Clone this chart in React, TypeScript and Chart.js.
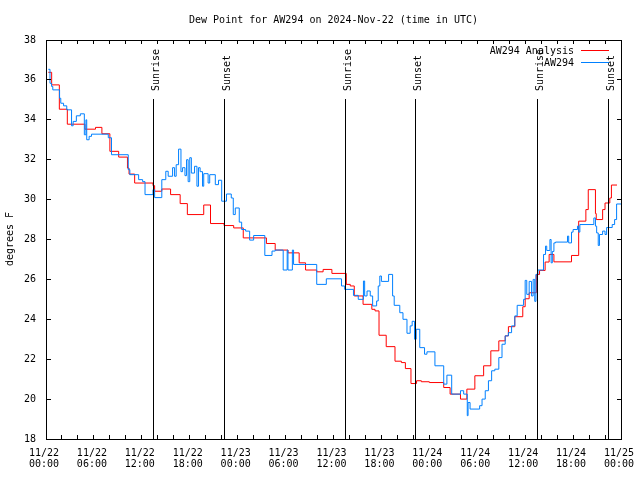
import React, { useEffect, useRef } from "react";
import { Chart, registerables } from "chart.js";

Chart.register(...registerables);

// ---------- text ----------
const TITLE = "Dew Point for AW294 on 2024-Nov-22 (time in UTC)";
const Y_TITLE = "degrees F";
const ANALYSIS_LABEL = "AW294 Analysis";
const OBS_LABEL = "AW294";

// ---------- axes ----------
const X_MIN = 0; // hours since 11/22 00:00 UTC
const X_MAX = 72;
const Y_MIN = 18;
const Y_MAX = 38;
const xTickHours = [0, 6, 12, 18, 24, 30, 36, 42, 48, 54, 60, 66, 72];
const xTickDates = ["11/22", "11/22", "11/22", "11/22", "11/23", "11/23", "11/23", "11/23", "11/24", "11/24", "11/24", "11/24", "11/25"];
const xTickTimes = ["00:00", "06:00", "12:00", "18:00", "00:00", "06:00", "12:00", "18:00", "00:00", "06:00", "12:00", "18:00", "00:00"];
const yTickValues = [18, 20, 22, 24, 26, 28, 30, 32, 34, 36, 38];

// ---------- sunrise / sunset markers ----------
const sunEventHours = [13.44, 22.33, 37.48, 46.33, 61.52, 70.41];
const sunEventLabels = ["Sunrise", "Sunset", "Sunrise", "Sunset", "Sunrise", "Sunset"];
const SUN_LINE_TOP = 35; // degrees F, where the marker lines start

// ---------- series: AW294 Analysis (red) ----------
const analysisHours = [
  0.29, 0.71, 1.67, 2.67, 4.88, 6.2, 7.0, 8.0, 9.1, 10.2, 10.4, 11.1, 13.4, 13.6, 14.5, 15.6, 16.8, 17.7, 19.75, 20.6,
  22.3, 23.5, 24.7, 27.6, 28.7, 30.3, 31.7, 32.5, 33.9, 34.7, 35.8, 37.6, 38.1, 38.6, 39.7, 40.8, 41.2, 41.7, 42.6, 43.7,
  44.5, 45.0, 45.7, 46.4, 47.0, 48.0, 49.8, 50.6, 51.9, 52.7, 53.7, 54.8, 55.7, 56.7, 57.5, 57.9, 58.7, 59.7, 60.0, 60.5,
  61.4, 61.8, 62.5, 63.0, 63.6, 65.8, 66.7, 67.6, 67.9, 68.8, 68.9, 69.7, 70.0, 70.6, 70.8, 71.5,
];
const analysisValues = [
  36.38, 35.75, 34.53, 33.78, 33.53, 33.62, 33.3, 32.42, 32.13, 31.58, 31.28, 30.83, 30.7, 30.42, 30.53, 30.25, 29.8, 29.25, 29.73, 28.8,
  28.7, 28.58, 28.08, 27.8, 27.47, 27.33, 26.83, 26.47, 26.38, 26.5, 26.3, 25.75, 25.67, 25.17, 24.75, 24.5, 24.42, 23.2, 22.63, 21.9,
  21.83, 21.53, 20.78, 20.92, 20.87, 20.83, 20.58, 20.25, 20.0, 20.5, 21.17, 21.67, 22.42, 22.92, 23.17, 23.63, 24.13, 24.63, 25.03, 25.33,
  26.25, 26.45, 26.87, 27.25, 26.88, 27.2, 28.92, 29.5, 30.5, 29.3, 29.0, 29.5, 29.83, 30.08, 30.73, 30.73,
];

// ---------- series: AW294 observations (blue) ----------
const obsHours = [
  0.29, 0.5, 0.7, 0.85, 1.7, 1.85, 2.2, 2.6, 3.2, 3.4, 3.8, 4.3, 4.8, 5.0, 5.1, 5.4, 5.7, 7.8, 8.2, 10.3,
  10.5, 11.6, 12.1, 12.4, 13.4, 13.6, 14.5, 15.0, 15.3, 15.85, 16.1, 16.3, 16.6, 16.9, 17.1, 17.4, 17.6, 17.8, 18.0, 18.2,
  18.6, 18.9, 19.1, 19.3, 19.6, 19.75, 20.3, 20.5, 21.2, 21.6, 22.0, 22.6, 23.2, 23.45, 23.7, 24.2, 24.5, 25.0, 25.5, 26.0,
  27.4, 28.3, 28.7, 29.7, 30.2, 30.3, 30.85, 31.0, 33.9, 35.1, 37.0, 37.4, 38.5, 39.1, 39.75, 39.9, 40.2, 40.6, 40.9, 41.4,
  41.6, 41.8, 42.0, 42.9, 43.4, 43.6, 44.3, 44.7, 45.2, 45.6, 45.85, 46.15, 46.35, 46.8, 47.4, 47.7, 48.7, 49.8, 50.2, 50.8,
  51.9, 52.3, 52.75, 52.85, 53.1, 54.3, 54.6, 55.0, 55.4, 55.8, 56.2, 56.7, 57.1, 57.5, 57.9, 58.3, 58.7, 59.0, 59.8, 60.0,
  60.2, 60.5, 60.8, 61.0, 61.2, 61.35, 61.6, 62.3, 62.55, 62.7, 63.1, 63.25, 63.4, 63.6, 63.8, 65.3, 65.45, 65.8, 66.0, 66.55,
  66.7, 66.85, 68.6, 68.8, 68.95, 69.15, 69.3, 69.7, 70.0, 70.2, 70.9, 71.2, 71.45, 72.0,
];
const obsValues = [
  36.53, 35.83, 35.67, 35.5, 35.08, 34.83, 34.7, 34.5, 33.7, 33.92, 34.2, 34.3, 33.25, 34.0, 33.0, 33.17, 33.28, 33.1, 32.25, 31.5,
  31.25, 31.0, 30.9, 30.25, 30.5, 30.1, 31.0, 31.42, 31.17, 31.6, 31.17, 31.75, 32.53, 31.4, 31.6, 31.2, 32.0, 30.9, 32.1, 31.33,
  31.67, 30.67, 31.6, 31.4, 30.67, 31.3, 30.83, 31.25, 30.75, 30.97, 29.92, 30.28, 30.08, 29.25, 29.58, 28.87, 28.5, 28.42, 27.97, 28.2,
  27.2, 27.42, 27.47, 26.47, 27.47, 26.47, 27.47, 26.75, 25.75, 26.03, 25.67, 25.5, 25.2, 25.0, 25.92, 25.17, 25.42, 25.17, 24.67, 24.92,
  25.67, 26.17, 25.9, 26.25, 25.17, 24.7, 24.33, 24.0, 23.3, 23.67, 23.9, 23.0, 23.5, 22.58, 22.25, 22.37, 21.67, 20.75, 21.2, 20.25,
  20.42, 20.25, 19.17, 19.83, 19.5, 19.67, 20.0, 20.42, 20.92, 21.42, 21.5, 22.08, 22.75, 23.17, 23.33, 23.67, 24.17, 24.7, 25.0, 25.95,
  25.25, 25.9, 25.17, 26.0, 24.9, 26.25, 26.47, 27.25, 27.67, 27.45, 28.0, 26.83, 27.4, 27.83, 27.87, 28.17, 27.83, 28.37, 28.5, 28.67,
  28.37, 28.75, 29.08, 28.67, 28.33, 27.7, 28.25, 28.42, 28.25, 28.6, 28.75, 29.0, 29.78, 29.78,
];

const FAMILY = '"DejaVu Sans Mono", "Liberation Mono", monospace';
const FONT = `10px ${FAMILY}`;
const RED = "#ff0000";
const BLUE = "#0080ff";

const toPoints = (xs: number[], ys: number[]) =>
  xs.slice(0, Math.min(xs.length, ys.length)).map((x, i) => ({ x, y: ys[i] }));

const zeroPadding = (s: any) => {
  s.paddingLeft = 0;
  s.paddingRight = 0;
  s.paddingTop = 0;
  s.paddingBottom = 0;
};

export default function App() {
  const ref = useRef<HTMLCanvasElement | null>(null);

  useEffect(() => {
    const canvas = ref.current;
    if (!canvas) return;

    const overlay = {
      id: "overlay",
      afterDatasetsDraw(chart: any) {
        const { ctx, chartArea: a, scales } = chart;
        const xs = scales.x;
        const ys = scales.y;
        ctx.save();
        ctx.strokeStyle = "#000";
        ctx.fillStyle = "#000";
        ctx.lineWidth = 1;
        ctx.font = FONT;

        // sunrise / sunset lines and labels
        const lineTop = Math.floor(ys.getPixelForValue(SUN_LINE_TOP));
        sunEventHours.forEach((h, i) => {
          const px = Math.floor(xs.getPixelForValue(h)) + 0.5;
          ctx.beginPath();
          ctx.moveTo(px, lineTop);
          ctx.lineTo(px, a.bottom);
          ctx.stroke();
          ctx.save();
          ctx.translate(px + 5.5, lineTop - 8);
          ctx.rotate(-Math.PI / 2);
          ctx.textAlign = "left";
          ctx.textBaseline = "alphabetic";
          ctx.fillText(sunEventLabels[i], 0, 0);
          ctx.restore();
        });

        // frame
        ctx.strokeRect(a.left + 0.5, a.top + 0.5, a.right - a.left, a.bottom - a.top);

        // x ticks (every 2 hours), bottom and top, inward
        for (let h = X_MIN; h <= X_MAX; h += 2) {
          const px = Math.floor(xs.getPixelForValue(h)) + 0.5;
          ctx.beginPath();
          ctx.moveTo(px, a.bottom);
          ctx.lineTo(px, a.bottom - 4);
          ctx.moveTo(px, a.top);
          ctx.lineTo(px, a.top + 4);
          ctx.stroke();
        }
        // y ticks, left and right, inward
        yTickValues.forEach((v) => {
          const py = Math.floor(ys.getPixelForValue(v)) + 0.5;
          ctx.beginPath();
          ctx.moveTo(a.left, py);
          ctx.lineTo(a.left + 5, py);
          ctx.moveTo(a.right + 1, py);
          ctx.lineTo(a.right - 4, py);
          ctx.stroke();
        });
        ctx.restore();
      },
      afterDraw(chart: any) {
        const { ctx, chartArea: a } = chart;
        ctx.save();
        ctx.fillStyle = "#000";
        ctx.font = FONT;

        // title
        ctx.textAlign = "center";
        ctx.textBaseline = "middle";
        ctx.fillText(TITLE, (a.left + a.right) / 2, 20);

        // y axis title
        ctx.save();
        ctx.translate(13, 239);
        ctx.rotate(-Math.PI / 2);
        ctx.textAlign = "center";
        ctx.textBaseline = "alphabetic";
        ctx.fillText(Y_TITLE, 0, 0);
        ctx.restore();

        // legend
        const entries = [
          { label: ANALYSIS_LABEL, color: RED },
          { label: OBS_LABEL, color: BLUE },
        ];
        entries.forEach((e, i) => {
          const cy = 51 + i * 12;
          ctx.fillStyle = "#000";
          ctx.textAlign = "right";
          ctx.textBaseline = "middle";
          ctx.fillText(e.label, 574, cy);
          ctx.strokeStyle = e.color;
          ctx.lineWidth = 1;
          ctx.beginPath();
          ctx.moveTo(581, cy - 0.5);
          ctx.lineTo(609, cy - 0.5);
          ctx.stroke();
        });
        ctx.restore();
      },
    };

    const chart = new Chart(canvas, {
      type: "line",
      data: {
        datasets: [
          {
            label: OBS_LABEL,
            data: toPoints(obsHours, obsValues),
            borderColor: BLUE,
            backgroundColor: BLUE,
            borderWidth: 1,
            stepped: true,
            pointRadius: 0,
            fill: false,
            order: 0,
          },
          {
            label: ANALYSIS_LABEL,
            data: toPoints(analysisHours, analysisValues),
            borderColor: RED,
            backgroundColor: RED,
            borderWidth: 1,
            stepped: true,
            pointRadius: 0,
            fill: false,
            order: 1,
          },
        ],
      },
      options: {
        responsive: false,
        animation: false,
        devicePixelRatio: 1,
        events: [],
        layout: { padding: { top: 40, right: 19, left: 0, bottom: 0 } },
        plugins: {
          legend: { display: false },
          tooltip: { enabled: false },
          title: { display: false },
        },
        scales: {
          x: {
            type: "linear",
            min: X_MIN,
            max: X_MAX,
            grid: { display: false, drawTicks: false },
            border: { display: false },
            afterFit: (s: any) => {
              s.height = 41;
              zeroPadding(s);
            },
            afterBuildTicks: (s: any) => {
              s.ticks = xTickHours.map((value) => ({ value }));
            },
            ticks: {
              autoSkip: false,
              maxRotation: 0,
              minRotation: 0,
              padding: 9,
              labelOffset: -2,
              color: "#000",
              font: { family: FAMILY, size: 10, lineHeight: 1.1 },
              callback: (v: any) => {
                const i = xTickHours.indexOf(Number(v));
                return i >= 0 ? [xTickDates[i], xTickTimes[i]] : "";
              },
            },
          },
          y: {
            type: "linear",
            min: Y_MIN,
            max: Y_MAX,
            grid: { display: false, drawTicks: false },
            border: { display: false },
            afterFit: (s: any) => {
              s.width = 46;
              zeroPadding(s);
            },
            afterBuildTicks: (s: any) => {
              s.ticks = yTickValues.map((value) => ({ value }));
            },
            ticks: {
              padding: 10,
              color: "#000",
              font: { family: FAMILY, size: 10 },
              callback: (v: any) => String(v),
            },
          },
        },
      },
      plugins: [overlay],
    } as any);

    return () => chart.destroy();
  }, []);

  return (
    <div style={{ position: "absolute", left: 0, top: 0, width: 640, height: 480, background: "#fff" }}>
      <canvas ref={ref} width={640} height={480} style={{ display: "block", width: 640, height: 480 }} />
    </div>
  );
}
